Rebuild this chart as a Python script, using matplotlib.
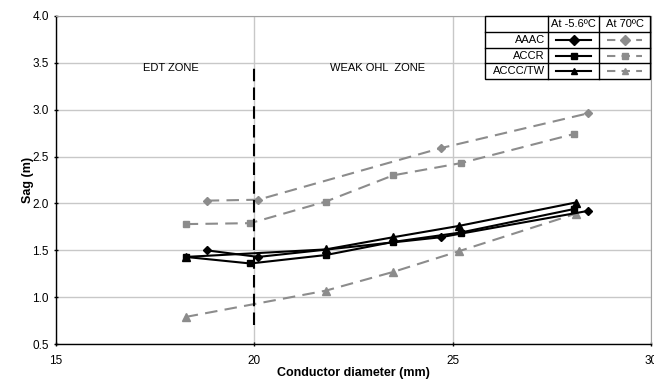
import matplotlib.pyplot as plt
from matplotlib.lines import Line2D
from matplotlib.patches import Rectangle

plt.rcParams['font.family'] = ['Liberation Sans', 'DejaVu Sans']

# conductor diameters (mm) and sag (m)
aaac_d = [18.8, 20.1, 24.7, 28.4]
aaac_cold = [1.50, 1.43, 1.64, 1.92]
aaac_hot = [2.03, 2.04, 2.59, 2.96]

accr_d = [18.27, 19.9, 21.8, 23.5, 25.2, 28.05]
accr_cold = [1.43, 1.36, 1.45, 1.59, 1.69, 1.94]
accr_hot = [1.78, 1.79, 2.02, 2.30, 2.43, 2.74]

accc_d = [18.27, 21.8, 23.5, 25.15, 28.1]
accc_cold = [1.43, 1.51, 1.64, 1.76, 2.01]
accc_hot = [0.79, 1.07, 1.27, 1.49, 1.89]

names = ['AAAC', 'ACCR', 'ACCC/TW']
markers = ['D', 's', '^']
temps = ['At -5.6ºC', 'At 70ºC']

GRAY = '#8c8c8c'
DASH = (6, 3.5)

fig = plt.figure(figsize=(6.54, 3.79), dpi=100)
ax = fig.add_axes([0.0855, 0.092, 0.91, 0.866])

series = [
    (aaac_d, aaac_cold, aaac_hot, 'D', 4.5),
    (accr_d, accr_cold, accr_hot, 's', 5),
    (accc_d, accc_cold, accc_hot, '^', 5.5),
]
for d, cold, hot, m, ms in series:
    ax.plot(d, hot, color=GRAY, lw=1.5, dashes=DASH, marker=m, ms=ms,
            mfc=GRAY, mec=GRAY, zorder=3)
for d, cold, hot, m, ms in series:
    ax.plot(d, cold, color='black', lw=1.5, marker=m, ms=ms, zorder=4)

# zone boundary
ax.plot([20, 20], [0.7, 3.45], color='black', lw=1.5, dashes=(6, 3), zorder=5)
ax.text(17.9, 3.44, 'EDT ZONE', ha='center', va='center', fontsize=8)
ax.text(23.1, 3.44, 'WEAK OHL  ZONE', ha='center', va='center', fontsize=8)

ax.set_xlim(15, 30)
ax.set_ylim(0.5, 4.0)
ax.set_xticks([15, 20, 25, 30])
ax.set_yticks([0.5, 1.0, 1.5, 2.0, 2.5, 3.0, 3.5, 4.0])
ax.set_yticklabels(['%.1f' % v for v in ax.get_yticks()])
ax.grid(True, color='#c8c8c8', lw=1)
ax.set_axisbelow(True)
ax.tick_params(labelsize=8.5, length=3, direction='inout', width=1)
ax.tick_params(axis='x', pad=6)
for s in ['top', 'right']:
    ax.spines[s].set_color('#a0a0a0')
for s in ['left', 'bottom']:
    ax.spines[s].set_linewidth(1)
ax.set_xlabel('Conductor diameter (mm)', fontsize=9, fontweight='bold', labelpad=0)
ax.set_ylabel('Sag (m)', fontsize=9, fontweight='bold', labelpad=-1)

# legend drawn as a small table, figure pixel coordinates
W, H = 654, 379
cols = [485, 548, 599, 650]
rows = [16, 32.3, 48.3, 63.3, 79.3]


def fx(x):
    return x / W


def fy(y):
    return 1 - y / H


fig.patches.append(Rectangle((fx(cols[0]), fy(rows[-1])), fx(cols[-1] - cols[0]),
                             (rows[-1] - rows[0]) / H, transform=fig.transFigure,
                             facecolor='white', edgecolor='black', lw=1, zorder=10))
for x in cols[1:-1]:
    fig.add_artist(Line2D([fx(x), fx(x)], [fy(rows[0]), fy(rows[-1])], color='black', lw=1, zorder=11))
for y in rows[1:-1]:
    fig.add_artist(Line2D([fx(cols[0]), fx(cols[-1])], [fy(y), fy(y)], color='black', lw=1, zorder=11))

for j, t in enumerate(temps):
    fig.text(fx((cols[j + 1] + cols[j + 2]) / 2), fy((rows[0] + rows[1]) / 2), t,
             ha='center', va='center', fontsize=8, zorder=12)
for i, n in enumerate(names):
    yc = fy((rows[i + 1] + rows[i + 2]) / 2)
    fig.text(fx(cols[1] - 3), yc, n, ha='right', va='center', fontsize=8, zorder=12)
    x0, x1 = fx(cols[1] + 8), fx(cols[2] - 8)
    fig.add_artist(Line2D([x0, (x0 + x1) / 2, x1], [yc, yc, yc], color='black', lw=1.5,
                          marker=markers[i], markevery=[1], ms=5, zorder=12))
    x0, x1 = fx(cols[2] + 8), fx(cols[3] - 8)
    fig.add_artist(Line2D([x0, (x0 + x1) / 2, x1], [yc, yc, yc], color=GRAY, lw=1.5, dashes=(4, 3),
                          marker=markers[i], markevery=[1], ms=5, mfc=GRAY, mec=GRAY, zorder=12))

fig.savefig('out.png', dpi=100)
